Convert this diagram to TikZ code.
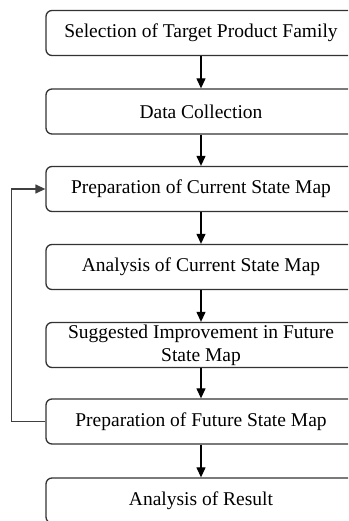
\documentclass[tikz,border=0pt]{standalone}
\usepackage{fontspec}
\setmainfont{Liberation Serif}
\usetikzlibrary{arrows.meta}
\begin{document}
\begin{tikzpicture}[x=1pt,y=-1pt,
  stepbox/.style={draw=black!80, line width=1.3pt, rounded corners=6pt,
    minimum width=310pt, minimum height=45pt, inner sep=0pt, align=center,
    font=\fontsize{19.5}{23}\selectfont},
  flow/.style={draw=black, line width=1.2pt, -{Triangle[length=10pt,width=9pt]}},
  back/.style={draw=black!75, line width=1.3pt, -{Triangle[length=10pt,width=9pt]}}]
\useasboundingbox (0,0) rectangle (348,521);
\clip (0,0) rectangle (348,521);
\node[stepbox] (s1) at (201,33)    {Selection of Target Product Family};
\node[stepbox] (s2) at (201,111.5) {Data Collection};
\node[stepbox] (s3) at (201,189)   {Preparation of Current State Map};
\node[stepbox] (s4) at (201,267)   {Analysis of Current State Map};
\node[stepbox] (s5) at (201,345)   {};
\node[font=\fontsize{19.5}{23}\selectfont, align=center, inner sep=0pt] (t5) at (201,345.5)
  {Suggested Improvement in Future\\State Map};
\node[stepbox] (s6) at (201,421.5) {Preparation of Future State Map};
\node[stepbox] (s7) at (201,500.5) {Analysis of Result};
\draw[flow] (s1.south) -- (s2.north);
\draw[flow] (s2.south) -- (s3.north);
\draw[flow] (s3.south) -- (s4.north);
\draw[flow] (s4.south) -- (s5.north);
\draw[flow] (s5.south) -- (s6.north);
\draw[flow] (s6.south) -- (s7.north);
\draw[back] (s6.west) -- ++(-34,0) |- (s3.west);
\end{tikzpicture}
\end{document}
